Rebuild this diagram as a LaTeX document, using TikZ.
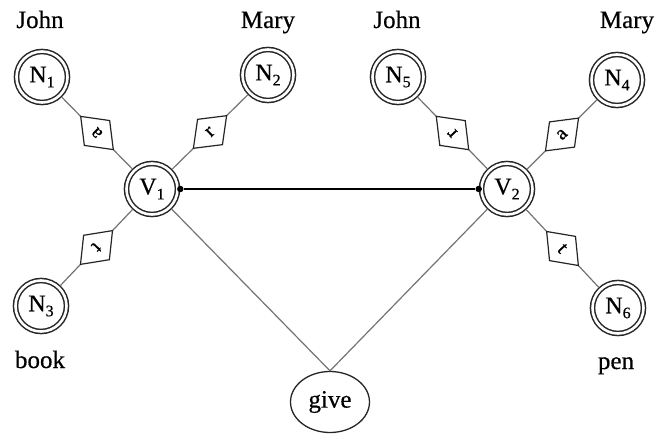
\documentclass[tikz,border=0pt]{standalone}
\usepackage{fontspec}
\setmainfont{Liberation Serif}[FakeBold=0.5]
\usetikzlibrary{shapes.geometric}
\newcommand{\nsub}[1]{N\raisebox{-0.45ex}{\fontsize{16}{17}\selectfont #1}}
\newcommand{\vsub}[1]{V\raisebox{-0.45ex}{\fontsize{16}{17}\selectfont #1}}
\begin{document}
\begin{tikzpicture}[x=1pt,y=-1pt,
 ent/.style={circle, draw=black!85, double=white, line width=1.5pt, double distance=2.6pt, minimum size=51pt, inner sep=0pt, outer sep=2.8pt, font=\fontsize{24}{26}\selectfont},
 rel/.style={diamond, draw=black!85, fill=white, line width=1.2pt, minimum width=47pt, minimum height=36pt, inner sep=0pt, sloped, allow upside down, font=\fontsize{20}{22}\selectfont},
 edge/.style={draw=black!55, line width=1.2pt},
 lbl/.style={anchor=base, font=\fontsize{25}{27}\selectfont},
 dot/.style={circle, fill=black, inner sep=0pt, minimum size=6.5pt}]
\useasboundingbox (0,0) rectangle (655,435);
% entity nodes
\node[ent] (N1) at (42,77) {\nsub{1}};
\node[ent] (N2) at (268,75) {\nsub{2}};
\node[ent] (N3) at (41,306) {\nsub{3}};
\node[ent] (V1) at (152,189) {\vsub{1}};
\node[ent] (V2) at (507,189) {\vsub{2}};
\node[ent] (N5) at (398,77) {\nsub{5}};
\node[ent] (N4) at (617,80) {\nsub{4}};
\node[ent] (N6) at (618,308) {\nsub{6}};
\node[ellipse, draw=black!85, line width=1.3pt, minimum width=79pt, minimum height=61pt, inner sep=0pt, font=\fontsize{25}{27}\selectfont] (give) at (330,402) {give};
% labels
\node[lbl] (l1) at (40,28) {John};
\node[lbl] (l2) at (268,28) {Mary};
\node[lbl] (l3) at (397,28) {John};
\node[lbl] (l4) at (627,28) {Mary};
\node[lbl] (l5) at (40,368) {book};
\node[lbl] (l6) at (616,369) {pen};
% relation edges
\draw[edge] (V1) -- node[rel] (r1) {a} (N1);
\draw[edge] (V1) -- node[rel] (r2) {r} (N2);
\draw[edge] (V1) -- node[rel] (r3) {t} (N3);
\draw[edge] (V2) -- node[rel] (r5) {r} (N5);
\draw[edge] (V2) -- node[rel] (r4) {a} (N4);
\draw[edge] (V2) -- node[rel] (r6) {t} (N6);
% give edges
\draw[edge] (V1) -- (give.north);
\draw[edge] (V2) -- (give.north);
% link
\node[dot] (p1) at (V1.east) {};
\node[dot] (p2) at (V2.west) {};
\draw[black, line width=1.6pt] (p1) -- (p2);
\end{tikzpicture}
\end{document}
